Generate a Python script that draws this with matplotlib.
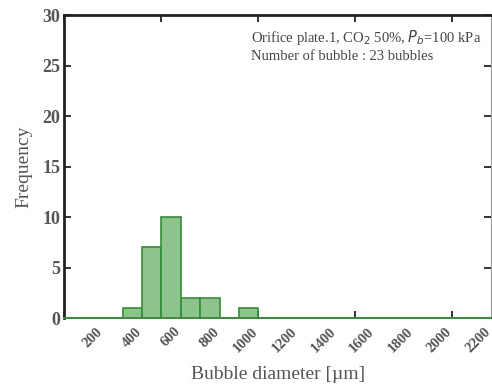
import numpy as np
import matplotlib
matplotlib.use("Agg")
import matplotlib.pyplot as plt
from matplotlib.ticker import MultipleLocator, NullFormatter
from matplotlib.transforms import ScaledTranslation

# Histogram of bubble diameters, 100 µm bins from 0 to 2200 µm
bin_edges = list(range(0, 2300, 100))
counts = [0, 0, 0, 1, 7, 10, 2, 2, 0, 1, 0, 0, 0, 0, 0, 0, 0, 0, 0, 0, 0, 0]
label_ticks = list(range(200, 2400, 200))
label_texts = [str(v) for v in label_ticks]
y_ticks = [0, 5, 10, 15, 20, 25, 30]

plt.rcParams["font.family"] = ["Liberation Serif", "DejaVu Serif"]

fig = plt.figure(figsize=(4.92, 3.89), dpi=100)
ax = fig.add_axes([0.131, 0.1825, 0.867, 0.7785])

lefts = bin_edges[:-1]
widths = np.diff(bin_edges)
ax.bar(lefts, counts, width=widths, align="edge",
       color=(0.47, 0.73, 0.47, 0.85), edgecolor=(0.22, 0.55, 0.22), linewidth=1.2,
       zorder=3)

ax.set_xlim(0, 2200)
ax.set_ylim(0, 30)

# x marks every 500 µm on top and bottom, labels every 200 µm drawn as rotated texts
ax.xaxis.set_major_locator(MultipleLocator(500))
ax.xaxis.set_major_formatter(NullFormatter())
ax.tick_params(axis="x", which="major", direction="in", length=5, width=1.3,
               top=True, bottom=True, color="#222222")
label_tf = ax.get_xaxis_transform() + ScaledTranslation(-7 / 100, -7 / 100,
                                                        fig.dpi_scale_trans)
for val, txt in zip(label_ticks, label_texts):
    ax.text(val, 0, txt, transform=label_tf, rotation=45, ha="right", va="top",
            rotation_mode="anchor", fontsize=10.5, color="#555555",
            fontweight="bold", clip_on=False)

ax.set_yticks(y_ticks)
ax.tick_params(axis="y", direction="in", length=5, width=1.3, left=True,
               right=True, labelsize=13, labelcolor="#555555", color="#222222",
               pad=3)
for lab in ax.get_yticklabels():
    lab.set_fontweight("bold")

for side in ("left", "top"):
    ax.spines[side].set_linewidth(2)
    ax.spines[side].set_color("#222222")
ax.spines["right"].set_linewidth(0.8)
ax.spines["right"].set_color("#999999")
ax.spines["bottom"].set_linewidth(1.5)
ax.spines["bottom"].set_color((0.3, 0.5, 0.3))

ax.set_ylabel("Frequency", fontsize=14, color="#555555")
ax.yaxis.set_label_coords(-0.075, 0.5)
ax.set_xlabel("Bubble diameter [µm]", fontsize=14, color="#555555")
ax.xaxis.set_label_coords(0.5, -0.16)
ax.xaxis.label.set_va("top")

ax.text(0.437, 0.958, r"Orifice plate.1, CO$_2$ 50%, $P_b$=100 kPa",
        transform=ax.transAxes, fontsize=10.5, color="#444444", va="top", ha="left")
ax.text(0.437, 0.885, "Number of bubble : 23 bubbles",
        transform=ax.transAxes, fontsize=10.5, color="#444444", va="top", ha="left")

fig.savefig("out.png", dpi=100)
